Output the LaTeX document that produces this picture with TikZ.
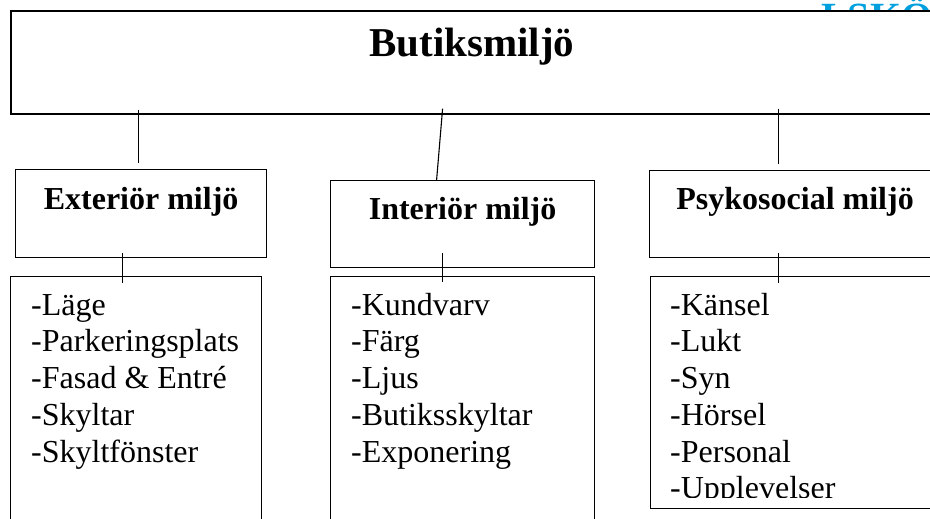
\documentclass[tikz,border=0pt]{standalone}
\usepackage{fontspec}
\setmainfont{Liberation Serif}
\usetikzlibrary{positioning}
\definecolor{logoblue}{RGB}{0,160,222}
\tikzset{
  head/.style={draw, line width=1.2pt, rectangle, inner sep=0pt, anchor=north west,
    font=\bfseries\fontsize{32}{36}\selectfont, text height=40pt, text depth=48pt},
  listbox/.style={draw, line width=1.2pt, rectangle, inner sep=0pt, anchor=north west},
  item/.style={anchor=base west, inner sep=0pt, font=\fontsize{32}{36}\selectfont},
  link/.style={line width=1.1pt},
}

\begin{document}
\begin{tikzpicture}[x=1pt,y=-1pt]
  \useasboundingbox (0,0) rectangle (930,519);
  \clip (0,0) rectangle (930,519);
  %%%%% START %%%%%
  \node[anchor=base west, inner sep=0pt, text=logoblue, font=\bfseries\fontsize{40}{44}\selectfont] (logo) at (821,31) {LSKÖ};
  \node[head, fill=white, line width=1.6pt, minimum width=922pt, text height=46pt, text depth=57pt,
    font=\bfseries\fontsize{41}{46}\selectfont] (top) at (10,10) {Butiksmiljö};

  \node[head, minimum width=251pt] (ext) at (15,169) {Exteriör miljö};
  \node[head, minimum width=264pt, text height=39pt] (int) at (330,180) {Interiör miljö};
  \node[head, minimum width=291pt, text height=39pt] (psy) at (649,170) {Psykosocial miljö};

  \node[listbox, minimum width=251pt, minimum height=280pt] (extlist) at (10,276) {};
  \node[listbox, minimum width=264pt, minimum height=280pt] (intlist) at (330,276) {};
  \node[listbox, minimum width=290pt, minimum height=232pt] (psylist) at (650,276) {};

  \foreach \t [count=\i] in {-Läge,-Parkeringsplats,-Fasad \& Entré,-Skyltar,-Skyltfönster}
    \node[item] (ext-\i) at (31,{315+36.75*(\i-1)}) {\t};
  \foreach \t [count=\i] in {-Kundvarv,-Färg,-Ljus,-Butiksskyltar,-Exponering}
    \node[item] (int-\i) at (351,{315+36.75*(\i-1)}) {\t};
  \begin{scope}
    \clip (640,276) rectangle (935,497);
    \foreach \t [count=\i] in {-Känsel,-Lukt,-Syn,-Hörsel,-Personal,-Upplevelser}
      \node[item] (psy-\i) at (670,{315+36.75*(\i-1)}) {\t};
  \end{scope}

  \draw[link] ([xshift=-2.8pt,yshift=5pt]top.south -| ext.north) -- ([xshift=-2.8pt,yshift=6pt]ext.north);
  \draw[link] ([xshift=-20pt,yshift=6pt]top.south -| int.north) -- ([xshift=-26pt]int.north);
  \draw[link] ([xshift=-16.5pt,yshift=6pt]top.south -| psy.north) -- ([xshift=-16.5pt,yshift=6pt]psy.north);

  \draw[link] ([xshift=-18.5pt,yshift=5pt]ext.south) -- ([xshift=-18.5pt,yshift=-7pt]ext.south |- extlist.north);
  \draw[link] ([xshift=-20pt,yshift=15pt]int.south) -- ([xshift=-20pt,yshift=-6pt]intlist.north);
  \draw[link] ([xshift=-16.5pt,yshift=5pt]psy.south) -- ([xshift=-16.5pt,yshift=-7pt]psy.south |- psylist.north);
  %%%%% END %%%%%
\end{tikzpicture}
\end{document}
